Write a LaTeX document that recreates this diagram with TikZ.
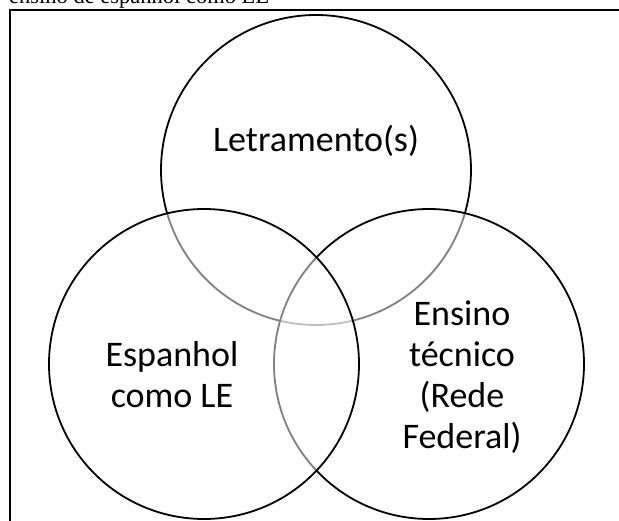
\documentclass[tikz,border=0pt]{standalone}
\usepackage{fontspec}
\setmainfont{Carlito}
\newfontfamily\timesfont{Liberation Serif}
\usepackage{tikz}

\begin{document}
\begin{tikzpicture}[x=1pt,y=-1pt,
    venn/.style={circle, draw=black, line width=1.8pt, fill=white, fill opacity=0.5, minimum size=310pt, inner sep=0pt},
    vlabel/.style={align=center, font=\fontsize{36}{41}\selectfont}]

        \useasboundingbox (0,0) rectangle (619,521);
        \clip (0,0) rectangle (619,521);

        % Draw caption (cut off at the top)
        \node[anchor=base west, inner sep=0pt, font=\timesfont\fontsize{22.5}{26}\selectfont] (caption) at (9,4) {ensino de espanhol como LE};

        % Draw frame
        \draw[line width=1.8pt] (10,540) -- (10,10) -- (640,10);

        % Draw circles (top, right, left)
        \node[venn] (letr) at (316,170) {};
        \node[venn] (tec) at (429,364) {};
        \node[venn] (esp) at (204,364) {};

        % Draw labels
        \node[vlabel, anchor=base] (letrlabel) at (316,152) {Letramento(s)};
        \node[vlabel] (esplabel) at (172,375) {Espanhol\\como LE};
        \node[vlabel] (teclabel) at (462,377) {Ensino\\técnico\\(Rede\\Federal)};

    \end{tikzpicture}
\end{document}
